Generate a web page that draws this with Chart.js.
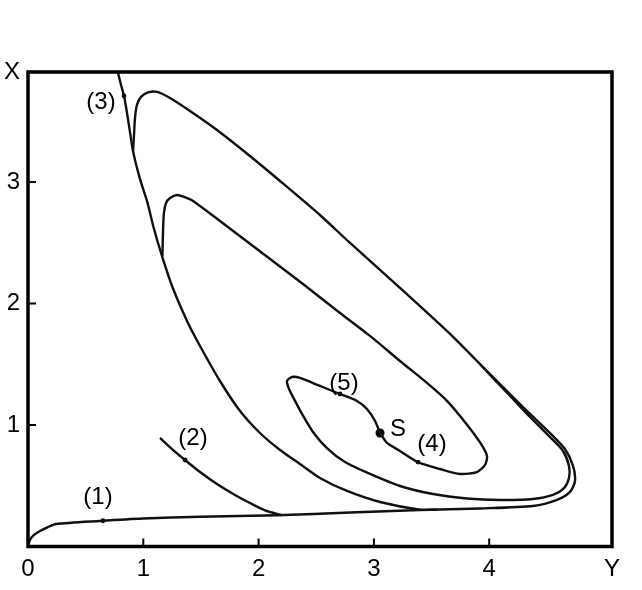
<!DOCTYPE html>
<html><head><meta charset="utf-8">
<script src="https://cdn.jsdelivr.net/npm/chart.js@4/dist/chart.umd.min.js"></script>
<style>html,body{margin:0;padding:0;background:#fff;}canvas{display:block;}</style>
</head><body>
<canvas id="c" width="642" height="590"></canvas>
<script>
// Axis ticks (horizontal axis = Y, vertical axis = X)
const xTickValues = [0, 1, 2, 3, 4, 5.065];
const xTickLabels = ['0', '1', '2', '3', '4', 'Y'];
const yTickValues = [1, 2, 3, 3.905];
const yTickLabels = ['1', '2', '3', 'X'];

// Trajectory (1): from origin along the bottom, around the right turn, up to the top-left
const t1Y = [0, 0.017, 0.052, 0.104, 0.173, 0.243, 0.624, 0.997, 1.492, 2.160, 2.793, 3.400, 3.920, 4.380, 4.588, 4.701, 4.744, 4.727, 4.657, 4.527, 4.354, 4.206, 3.920, 3.660, 3.226, 2.793, 2.532, 2.186, 1.925, 1.639, 1.405, 1.232, 1.119, 1.041, 0.980, 0.945, 0.928, 0.919, 0.911];
const t1X = [0, 0.053, 0.095, 0.128, 0.160, 0.185, 0.210, 0.230, 0.245, 0.257, 0.280, 0.300, 0.313, 0.333, 0.383, 0.449, 0.539, 0.663, 0.802, 0.934, 1.091, 1.230, 1.502, 1.749, 2.128, 2.498, 2.728, 3.008, 3.214, 3.428, 3.584, 3.691, 3.741, 3.737, 3.700, 3.634, 3.527, 3.379, 3.255];

// Trajectory (2)
const t2Y = [1.145, 1.249, 1.362, 1.492, 1.639, 1.795, 1.925, 2.056, 2.200];
const t2X = [0.893, 0.802, 0.712, 0.613, 0.514, 0.424, 0.358, 0.298, 0.258];

// Trajectory (3): left branch from the top down to the bottom
const t3Y = [0.780, 0.807, 0.833, 0.867, 0.911, 0.971, 1.032, 1.093, 1.162, 1.249, 1.379, 1.492, 1.665, 1.839, 2.012, 2.186, 2.359, 2.532, 2.767, 3.053, 3.400, 3.550];
const t3X = [3.900, 3.798, 3.708, 3.519, 3.255, 3.025, 2.844, 2.613, 2.391, 2.144, 1.856, 1.650, 1.362, 1.115, 0.934, 0.794, 0.679, 0.564, 0.457, 0.366, 0.303, 0.303];

// Trajectory (4): from S outward
const t4Y = [3.053, 3.114, 3.226, 3.382, 3.573, 3.747, 3.894, 3.964, 3.981, 3.929, 3.816, 3.634, 3.460, 3.226, 2.966, 2.706, 2.385, 1.951, 1.665, 1.431, 1.353, 1.292, 1.232, 1.197, 1.179, 1.171, 1.166];
const t4X = [0.934, 0.852, 0.786, 0.695, 0.638, 0.597, 0.613, 0.671, 0.745, 0.844, 0.992, 1.198, 1.346, 1.527, 1.733, 1.922, 2.160, 2.473, 2.679, 2.844, 2.877, 2.893, 2.868, 2.827, 2.745, 2.597, 2.391];

// Trajectory (5): from S the other way
const t5Y = [3.053, 3.010, 2.940, 2.853, 2.706, 2.532, 2.359, 2.290, 2.246, 2.264, 2.316, 2.380, 2.470, 2.593, 2.749, 2.966, 3.226, 3.513, 3.807, 4.094, 4.380, 4.553, 4.649, 4.692, 4.692, 4.640, 4.527, 4.354, 4.206, 3.920];
const t5X = [0.934, 1.033, 1.132, 1.198, 1.255, 1.321, 1.387, 1.395, 1.362, 1.296, 1.198, 1.085, 0.945, 0.810, 0.695, 0.597, 0.498, 0.432, 0.395, 0.383, 0.391, 0.424, 0.481, 0.564, 0.663, 0.786, 0.901, 1.066, 1.214, 1.500];

// Small marker dots on the trajectories
const markY = [0.650, 1.362, 0.833, 3.382, 2.706];
const markX = [0.212, 0.712, 3.708, 0.695, 1.255];

// Stationary point S
const sY = [3.053];
const sX = [0.934];

// Annotation texts and anchors
const annoText = ['(1)', '(2)', '(3)', '(4)', '(5)', 'S'];
const annoY = [0.607, 1.431, 0.633, 3.504, 2.741, 3.209];
const annoX = [0.407, 0.893, 3.658, 0.844, 1.346, 0.967];

const pts = (ys, xs) => ys.map((v, i) => ({x: v, y: xs[i]}));
const FONT = '"Liberation Sans", Arial, Helvetica, sans-serif';

const lineDs = (ys, xs) => ({
  data: pts(ys, xs), showLine: true, borderColor: '#111', borderWidth: 2.4,
  pointRadius: 0, tension: 0.25, fill: false
});

const framePlugin = {
  id: 'frame',
  afterDatasetsDraw(chart) {
    const {ctx, chartArea: a, scales: {x, y}} = chart;
    ctx.save();
    ctx.strokeStyle = '#000';
    ctx.lineWidth = 3.5;
    ctx.strokeRect(a.left, a.top, a.right - a.left, a.bottom - a.top);
    ctx.lineWidth = 2;
    ctx.beginPath();
    for (const v of xTickValues.slice(1, 5)) {
      const px = x.getPixelForValue(v);
      ctx.moveTo(px, a.bottom); ctx.lineTo(px, a.bottom - 8);
    }
    for (const v of yTickValues.slice(0, 3)) {
      const py = y.getPixelForValue(v);
      ctx.moveTo(a.left, py); ctx.lineTo(a.left + 8, py);
    }
    ctx.stroke();
    ctx.fillStyle = '#000';
    ctx.font = '24px ' + FONT;
    ctx.textAlign = 'center';
    ctx.textBaseline = 'middle';
    annoText.forEach((t, i) => {
      ctx.fillText(t, x.getPixelForValue(annoY[i]), y.getPixelForValue(annoX[i]));
    });
    ctx.restore();
  }
};

new Chart(document.getElementById('c'), {
  type: 'scatter',
  data: {
    datasets: [
      lineDs(t1Y, t1X), lineDs(t2Y, t2X), lineDs(t3Y, t3X), lineDs(t4Y, t4X), lineDs(t5Y, t5X),
      {data: pts(markY, markX), pointRadius: 2.4, pointBackgroundColor: '#111', pointBorderWidth: 0, showLine: false},
      {data: pts(sY, sX), pointRadius: 4.5, pointBackgroundColor: '#000', pointBorderWidth: 0, showLine: false}
    ]
  },
  options: {
    responsive: false, animation: false,
    layout: {padding: {top: 72, right: 30, left: 0, bottom: 0}},
    plugins: {legend: {display: false}, tooltip: {enabled: false}},
    scales: {
      x: {
        type: 'linear', min: 0, max: 5.065,
        grid: {display: false, drawTicks: false},
        border: {display: false},
        afterBuildTicks: s => { s.ticks = xTickValues.map(v => ({value: v})); },
        afterFit: s => { s.height = 43.5; },
        ticks: {
          autoSkip: false, maxRotation: 0, color: '#000', padding: 8,
          font: {family: FONT, size: 24},
          callback: (v, i) => xTickLabels[i]
        }
      },
      y: {
        type: 'linear', min: 0, max: 3.905,
        grid: {display: false, drawTicks: false},
        border: {display: false},
        afterBuildTicks: s => { s.ticks = yTickValues.map(v => ({value: v})); },
        afterFit: s => { s.width = 28; },
        ticks: {
          autoSkip: false, color: '#000', padding: 8,
          font: {family: FONT, size: 24},
          callback: (v, i) => yTickLabels[i]
        }
      }
    }
  },
  plugins: [framePlugin]
});
</script>
</body></html>
